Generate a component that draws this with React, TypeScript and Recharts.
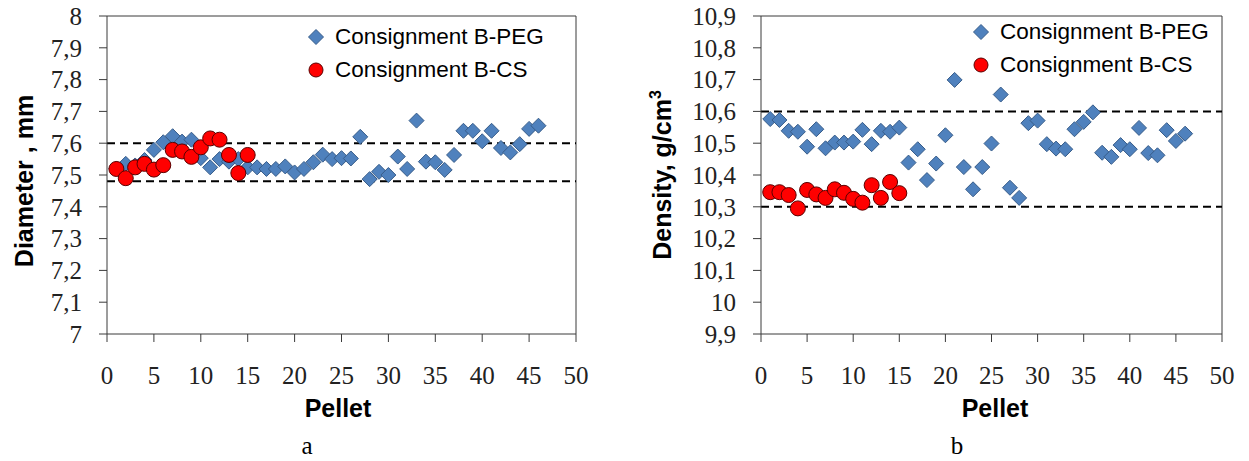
import { ScatterChart, Scatter, XAxis, YAxis, ReferenceLine, Legend } from "recharts";

const seriesNames = ["Consignment B-PEG", "Consignment B-CS"];

const pelletTicks = [0, 5, 10, 15, 20, 25, 30, 35, 40, 45, 50];
const diameterTicks = [7, 7.1, 7.2, 7.3, 7.4, 7.5, 7.6, 7.7, 7.8, 7.9, 8];
const densityTicks = [9.9, 10, 10.1, 10.2, 10.3, 10.4, 10.5, 10.6, 10.7, 10.8, 10.9];

const pegDiameter = [
  7.52, 7.535, 7.53, 7.547, 7.579, 7.603, 7.622, 7.605, 7.611, 7.553,
  7.524, 7.55, 7.542, 7.55, 7.524, 7.524, 7.519, 7.519, 7.527, 7.508,
  7.519, 7.54, 7.564, 7.55, 7.553, 7.552, 7.62, 7.487, 7.51, 7.5,
  7.558, 7.519, 7.671, 7.542, 7.54, 7.516, 7.563, 7.639, 7.639, 7.606,
  7.639, 7.585, 7.571, 7.597, 7.645, 7.655,
];
const csDiameter = [
  7.519, 7.49, 7.524, 7.535, 7.517, 7.531, 7.579, 7.574, 7.557, 7.587,
  7.615, 7.611, 7.563, 7.506, 7.563,
];
const diameterLimits = [7.6, 7.48];

const pegDensity = [
  10.576, 10.573, 10.539, 10.536, 10.489, 10.544, 10.484, 10.502, 10.502, 10.505,
  10.542, 10.497, 10.539, 10.536, 10.549, 10.439, 10.481, 10.384, 10.436, 10.525,
  10.699, 10.425, 10.355, 10.425, 10.499, 10.653, 10.36, 10.328, 10.563, 10.571,
  10.497, 10.483, 10.481, 10.544, 10.567, 10.597, 10.47, 10.457, 10.494, 10.481,
  10.548, 10.469, 10.462, 10.541, 10.507, 10.53,
];
const csDensity = [
  10.346, 10.346, 10.337, 10.295, 10.353, 10.339, 10.328, 10.355, 10.344, 10.325,
  10.313, 10.368, 10.328, 10.378, 10.343,
];
const densityLimits = [10.6, 10.3];

const toPoints = (values: number[]) => values.map((v, i) => ({ pellet: i + 1, value: v }));
const fmt = (v: number) => String(Math.round(v * 10) / 10).replace(".", ",");

const BLUE = "#4F81BD";
const RED = "#FF0000";
const AXIS = "#3a3a3a";
const serif = '"Liberation Serif", "Times New Roman", Times, serif';
const sans = '"Liberation Sans", Arial, sans-serif';

const tickText: React.CSSProperties = {
  fontFamily: serif,
  fontSize: 25,
  fontWeight: "normal",
  fill: "#222",
  stroke: "none",
};

const Diamond = (props: any) => {
  const { cx, cy } = props;
  const r = 7.5;
  return (
    <path
      d={`M${cx},${cy - r}L${cx + r},${cy}L${cx},${cy + r}L${cx - r},${cy}Z`}
      fill={BLUE}
      stroke="#385D8A"
      strokeWidth={1}
    />
  );
};

const Dot = (props: any) => {
  const { cx, cy } = props;
  return <circle cx={cx} cy={cy} r={7.5} fill={RED} stroke="#5a0000" strokeWidth={1} />;
};

const renderXTick = (props: any) => (
  <text x={props.x} y={props.y} dy="0.71em" textAnchor="middle" style={tickText}>
    {fmt(props.payload.value)}
  </text>
);

const renderYTick = (props: any) => (
  <text x={props.x} y={props.y} dy="0.355em" textAnchor="end" style={tickText}>
    {fmt(props.payload.value)}
  </text>
);

const LegendMarker = ({ name }: { name: string }) =>
  name === seriesNames[0] ? (
    <svg width={18} height={18}>
      <path d="M9,1.5L16.5,9L9,16.5L1.5,9Z" fill={BLUE} stroke="#385D8A" />
    </svg>
  ) : (
    <svg width={18} height={18}>
      <circle cx={9} cy={9} r={7} fill={RED} stroke="#5a0000" />
    </svg>
  );

const LegendBox = () => (
  <div style={{ fontFamily: sans, fontSize: 22.5, color: "#000" }}>
    {seriesNames.map((n) => (
      <div key={n} style={{ display: "flex", alignItems: "center", height: 33 }}>
        <LegendMarker name={n} />
        <span style={{ marginLeft: 10, whiteSpace: "nowrap" }}>{n}</span>
      </div>
    ))}
  </div>
);

interface PanelProps {
  peg: number[];
  cs: number[];
  ticks: number[];
  limits: number[];
  width: number;
  marginLeft: number;
  marginRight: number;
  legendLeft: number;
  legendTop: number;
}

function Panel({ peg, cs, ticks, limits, width, marginLeft, marginRight, legendLeft, legendTop }: PanelProps) {
  const lo = ticks[0];
  const hi = ticks[ticks.length - 1];
  return (
    <ScatterChart
      width={width}
      height={461}
      margin={{ top: 16, right: marginRight, left: marginLeft, bottom: 67 }}
    >
      <XAxis
        type="number"
        dataKey="pellet"
        domain={[0, 50]}
        ticks={pelletTicks}
        interval={0}
        height={60}
        tickSize={8}
        tickMargin={24}
        stroke={AXIS}
        tick={renderXTick}
      />
      <YAxis
        type="number"
        dataKey="value"
        domain={[lo, hi]}
        ticks={ticks}
        interval={0}
        width={80}
        tickSize={8}
        tickMargin={17}
        stroke={AXIS}
        tick={renderYTick}
      />
      <ReferenceLine y={hi} stroke={AXIS} strokeWidth={1} />
      <ReferenceLine x={50} stroke={AXIS} strokeWidth={1} />
      {limits.map((l) => (
        <ReferenceLine key={l} y={l} stroke="#000" strokeWidth={2} strokeDasharray="8 5" />
      ))}
      <Legend
        layout="vertical"
        align="center"
        verticalAlign="middle"
        content={<LegendBox />}
        wrapperStyle={{ left: legendLeft, top: legendTop, width: "auto", height: "auto" }}
      />
      <Scatter
        name={seriesNames[0]}
        data={toPoints(peg)}
        shape={Diamond}
        legendType="diamond"
        fill={BLUE}
        isAnimationActive={false}
      />
      <Scatter
        name={seriesNames[1]}
        data={toPoints(cs)}
        shape={Dot}
        legendType="circle"
        fill={RED}
        isAnimationActive={false}
      />
    </ScatterChart>
  );
}

const titleStyle: React.CSSProperties = {
  position: "absolute",
  fontFamily: sans,
  fontWeight: "bold",
  fontSize: 25,
  color: "#000",
  whiteSpace: "nowrap",
  transform: "translate(-50%, -50%)",
};

const rotated: React.CSSProperties = {
  ...titleStyle,
  transform: "translate(-50%, -50%) rotate(-90deg)",
};

const subStyle: React.CSSProperties = {
  position: "absolute",
  fontFamily: serif,
  fontSize: 25,
  color: "#000",
  transform: "translate(-50%, -50%)",
};

export default function App() {
  return (
    <div style={{ position: "absolute", left: 0, top: 0, width: 1249, height: 461, background: "#fff", overflow: "hidden" }}>
      <div style={{ position: "absolute", left: 0, top: 0 }}>
        <Panel
          peg={pegDiameter}
          cs={csDiameter}
          ticks={diameterTicks}
          limits={diameterLimits}
          width={600}
          marginLeft={27}
          marginRight={24}
          legendLeft={307}
          legendTop={20}
        />
      </div>
      <div style={{ position: "absolute", left: 640, top: 0 }}>
        <Panel
          peg={pegDensity}
          cs={csDensity}
          ticks={densityTicks}
          limits={densityLimits}
          width={609}
          marginLeft={41}
          marginRight={27}
          legendLeft={332}
          legendTop={15}
        />
      </div>
      <div style={{ ...rotated, left: 24, top: 181 }}>Diameter , mm</div>
      <div style={{ ...rotated, left: 662, top: 175 }}>
        Density, g/cm<sup style={{ fontSize: 16 }}>3</sup>
      </div>
      <div style={{ ...titleStyle, left: 338, top: 408 }}>Pellet</div>
      <div style={{ ...titleStyle, left: 995, top: 408 }}>Pellet</div>
      <div style={{ ...subStyle, left: 307, top: 446 }}>a</div>
      <div style={{ ...subStyle, left: 957, top: 446 }}>b</div>
    </div>
  );
}
